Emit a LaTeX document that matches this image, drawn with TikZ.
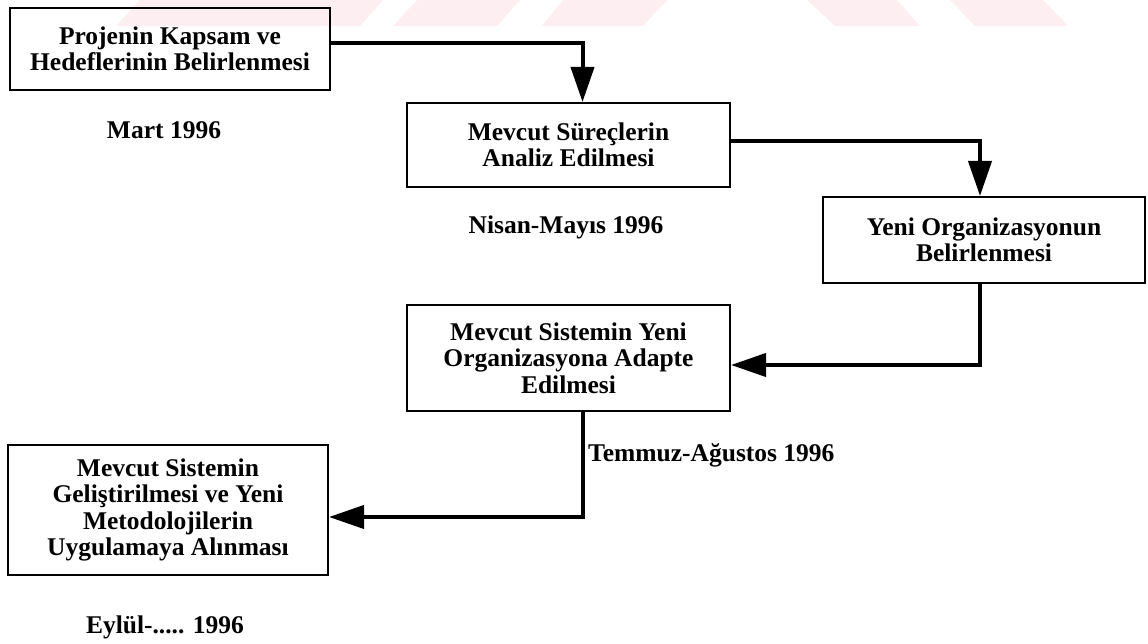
\documentclass[tikz,border=0pt]{standalone}
\usepackage{fontspec}
\setmainfont{Liberation Serif}
\usetikzlibrary{arrows.meta}
\definecolor{wmpink}{RGB}{253,238,241}
\tikzset{
  stage/.style={draw=black, line width=2pt, align=center, inner sep=0pt,
    font=\fontsize{25.5}{26.5}\selectfont\bfseries},
  datelabel/.style={font=\fontsize{25.5}{26.5}\selectfont\bfseries, inner sep=0pt},
  conn/.style={line width=4pt, line join=miter,
    -{Triangle[length=35pt,width=23pt]}},
  mark band/.style={fill=wmpink, draw=none}
}
\begin{document}
\begin{tikzpicture}[x=1pt, y=-1pt]
\useasboundingbox (0,0) rectangle (1148,644);
% faint banner across the top edge
\fill[mark band] (140,0) -- (383,0) -- (360,26) -- (116,26) -- cycle;
\fill[mark band] (417,0) -- (520,0) -- (497,26) -- (393,26) -- cycle;
\fill[mark band] (563,0) -- (667,0) -- (643,26) -- (542,26) -- cycle;
\fill[mark band] (807,0) -- (897,0) -- (920,26) -- (835,26) -- cycle;
\fill[mark band] (950,0) -- (1043,0) -- (1068,26) -- (975,26) -- cycle;

% project stages
\node[stage, minimum width=320pt, minimum height=82pt] (B1) at (170,49)
  {Projenin Kapsam ve\\Hedeflerinin Belirlenmesi};
\node[stage, minimum width=323pt, minimum height=84pt] (B2) at (568.5,145)
  {Mevcut Süreçlerin\\Analiz Edilmesi};
\node[stage, minimum width=322pt, minimum height=86pt] (B3) at (984,240)
  {Yeni Organizasyonun\\Belirlenmesi};
\node[stage, minimum width=323pt, minimum height=106pt] (B4) at (568.5,358)
  {Mevcut Sistemin Yeni\\Organizasyona Adapte\\Edilmesi};
\node[stage, minimum width=320pt, minimum height=130pt] (B5) at (168,510)
  {Mevcut Sistemin\\Geliştirilmesi ve Yeni\\Metodolojilerin\\Uygulamaya Alınması};

% dates
\node[datelabel] (D1) at (164,130) {Mart 1996};
\node[datelabel] (D2) at (566,227) {Nisan-Mayıs 1996};
\node[datelabel, anchor=west] (D3) at (588,455) {Temmuz-Ağustos 1996};
\node[datelabel] (D4) at (165,627) {Eylül-..... 1996};

% flow between stages
\draw[conn] ([yshift=6pt]B1.east) -| ([xshift=14pt]B2.north);
\draw[conn] ([yshift=4pt]B2.east) -| ([xshift=-4pt]B3.north);
\draw[conn] ([xshift=-4pt]B3.south) |- ([yshift=-7pt]B4.east);
\draw[conn] ([xshift=14pt]B4.south) |- ([yshift=-7pt]B5.east);
\end{tikzpicture}
\end{document}
